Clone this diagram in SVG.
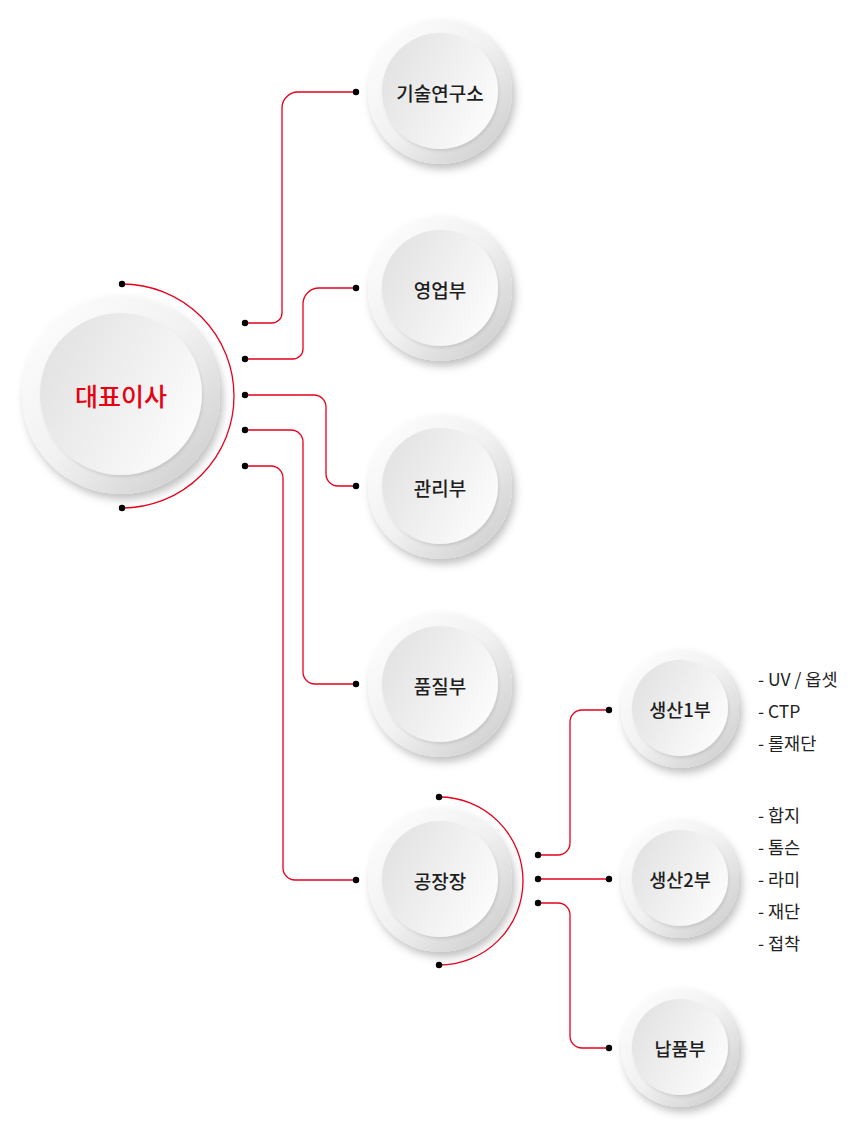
<svg xmlns="http://www.w3.org/2000/svg" width="862" height="1137" viewBox="0 0 862 1137">
  <defs>
    <linearGradient id="ring" x1="0" y1="0" x2="1" y2="1">
      <stop offset="0" stop-color="#ffffff"/>
      <stop offset="0.5" stop-color="#f1f1f1"/>
      <stop offset="1" stop-color="#c8c8c8"/>
    </linearGradient>
    <linearGradient id="face" x1="0" y1="0.25" x2="1" y2="0.75">
      <stop offset="0" stop-color="#e2e2e2"/>
      <stop offset="1" stop-color="#fdfdfd"/>
    </linearGradient>
    <filter id="shadow" x="-30%" y="-30%" width="160%" height="160%">
      <feDropShadow dx="3" dy="5" stdDeviation="4" flood-color="#000" flood-opacity="0.25"/>
    </filter>
    <filter id="inner" x="-30%" y="-30%" width="160%" height="160%">
      <feDropShadow dx="1" dy="2" stdDeviation="1.5" flood-color="#000" flood-opacity="0.10"/>
    </filter>
  </defs>
  <style>
    .ring { fill: url(#ring); filter: url(#shadow); }
    .face { fill: url(#face); filter: url(#inner); }
    .lbl { font-family: "Noto Sans CJK KR", "Noto Sans", sans-serif; fill: #1e1e1e; text-anchor: middle; dominant-baseline: central; font-weight: 500; }
    .l2 { font-size: 19px; }
    .l3 { font-size: 18.5px; }
    .ceo { font-size: 25px; fill: #e60012; font-weight: 500; }
    .item { font-family: "Noto Sans CJK KR", "Noto Sans", sans-serif; font-size: 17.5px; fill: #222; dominant-baseline: central; }
    .wire { fill: none; stroke: #e8001c; stroke-width: 1.3; }
    .dot { fill: #000; }
  </style>

  <g id="connectors">
    <path class="wire" d="M122,284 A112,112 0 0 1 122,508"/>
    <path class="wire" d="M245,323 H272 A10,10 0 0 0 282,313 V108 A16,16 0 0 1 298,92 H356"/>
    <path class="wire" d="M245,359 H293 A10,10 0 0 0 303,349 V304 A16,16 0 0 1 319,288 H356"/>
    <path class="wire" d="M245,395 H314 A12,12 0 0 1 326,407 V474 A12,12 0 0 0 338,486 H356"/>
    <path class="wire" d="M245,430 H291 A12,12 0 0 1 303,442 V672 A12,12 0 0 0 315,684 H356"/>
    <path class="wire" d="M245,466 H271 A12,12 0 0 1 283,478 V868 A12,12 0 0 0 295,880 H356"/>
    <path class="wire" d="M439,797 A84,84 0 0 1 439,965"/>
    <path class="wire" d="M538,855 H558 A12,12 0 0 0 570,843 V722 A12,12 0 0 1 582,710 H609"/>
    <path class="wire" d="M538,879 H609"/>
    <path class="wire" d="M538,903 H558 A12,12 0 0 1 570,915 V1036 A12,12 0 0 0 582,1048 H609"/>
    <circle class="dot" cx="122" cy="284" r="3.2"/>
    <circle class="dot" cx="122" cy="508" r="3.2"/>
    <circle class="dot" cx="245" cy="323" r="3.2"/>
    <circle class="dot" cx="245" cy="359" r="3.2"/>
    <circle class="dot" cx="245" cy="395" r="3.2"/>
    <circle class="dot" cx="245" cy="430" r="3.2"/>
    <circle class="dot" cx="245" cy="466" r="3.2"/>
    <circle class="dot" cx="356" cy="92" r="3.2"/>
    <circle class="dot" cx="356" cy="288" r="3.2"/>
    <circle class="dot" cx="356" cy="486" r="3.2"/>
    <circle class="dot" cx="356" cy="684" r="3.2"/>
    <circle class="dot" cx="356" cy="880" r="3.2"/>
    <circle class="dot" cx="439" cy="797" r="3.2"/>
    <circle class="dot" cx="439" cy="965" r="3.2"/>
    <circle class="dot" cx="538" cy="855" r="3.2"/>
    <circle class="dot" cx="538" cy="879" r="3.2"/>
    <circle class="dot" cx="538" cy="903" r="3.2"/>
    <circle class="dot" cx="609" cy="710" r="3.2"/>
    <circle class="dot" cx="609" cy="879" r="3.2"/>
    <circle class="dot" cx="609" cy="1048" r="3.2"/>
  </g>

  <g id="ceo">
    <circle class="ring" cx="121" cy="395" r="99"/>
    <circle class="face" cx="121" cy="394" r="81"/>
    <text class="lbl ceo" x="121" y="395">대표이사</text>
  </g>
  <g id="tech">
    <circle class="ring" cx="440" cy="92" r="72"/>
    <circle class="face" cx="440" cy="91" r="58"/>
    <text class="lbl l2" x="440" y="92">기술연구소</text>
  </g>
  <g id="sales">
    <circle class="ring" cx="440" cy="289" r="72"/>
    <circle class="face" cx="440" cy="288" r="58"/>
    <text class="lbl l2" x="440" y="289">영업부</text>
  </g>
  <g id="admin">
    <circle class="ring" cx="440" cy="487" r="72"/>
    <circle class="face" cx="440" cy="486" r="58"/>
    <text class="lbl l2" x="440" y="487">관리부</text>
  </g>
  <g id="quality">
    <circle class="ring" cx="440" cy="685" r="72"/>
    <circle class="face" cx="440" cy="684" r="58"/>
    <text class="lbl l2" x="440" y="685">품질부</text>
  </g>
  <g id="factory">
    <circle class="ring" cx="440" cy="880" r="72"/>
    <circle class="face" cx="440" cy="879" r="58"/>
    <text class="lbl l2" x="440" y="880">공장장</text>
  </g>
  <g id="prod1">
    <circle class="ring" cx="680" cy="709" r="59"/>
    <circle class="face" cx="680" cy="708" r="48"/>
    <text class="lbl l3" x="680" y="709">생산1부</text>
  </g>
  <g id="prod2">
    <circle class="ring" cx="680" cy="879" r="59"/>
    <circle class="face" cx="680" cy="878" r="48"/>
    <text class="lbl l3" x="680" y="879">생산2부</text>
  </g>
  <g id="delivery">
    <circle class="ring" cx="680" cy="1048" r="59"/>
    <circle class="face" cx="680" cy="1047" r="48"/>
    <text class="lbl l3" x="680" y="1048">납품부</text>
  </g>

  <g id="prod1-items">
    <text class="item" x="758" y="678">- UV / 옵셋</text>
    <text class="item" x="758" y="710">- CTP</text>
    <text class="item" x="758" y="742">- 롤재단</text>
  </g>
  <g id="prod2-items">
    <text class="item" x="758" y="814">- 합지</text>
    <text class="item" x="758" y="846">- 톰슨</text>
    <text class="item" x="758" y="878">- 라미</text>
    <text class="item" x="758" y="910">- 재단</text>
    <text class="item" x="758" y="942">- 접착</text>
  </g>
</svg>
